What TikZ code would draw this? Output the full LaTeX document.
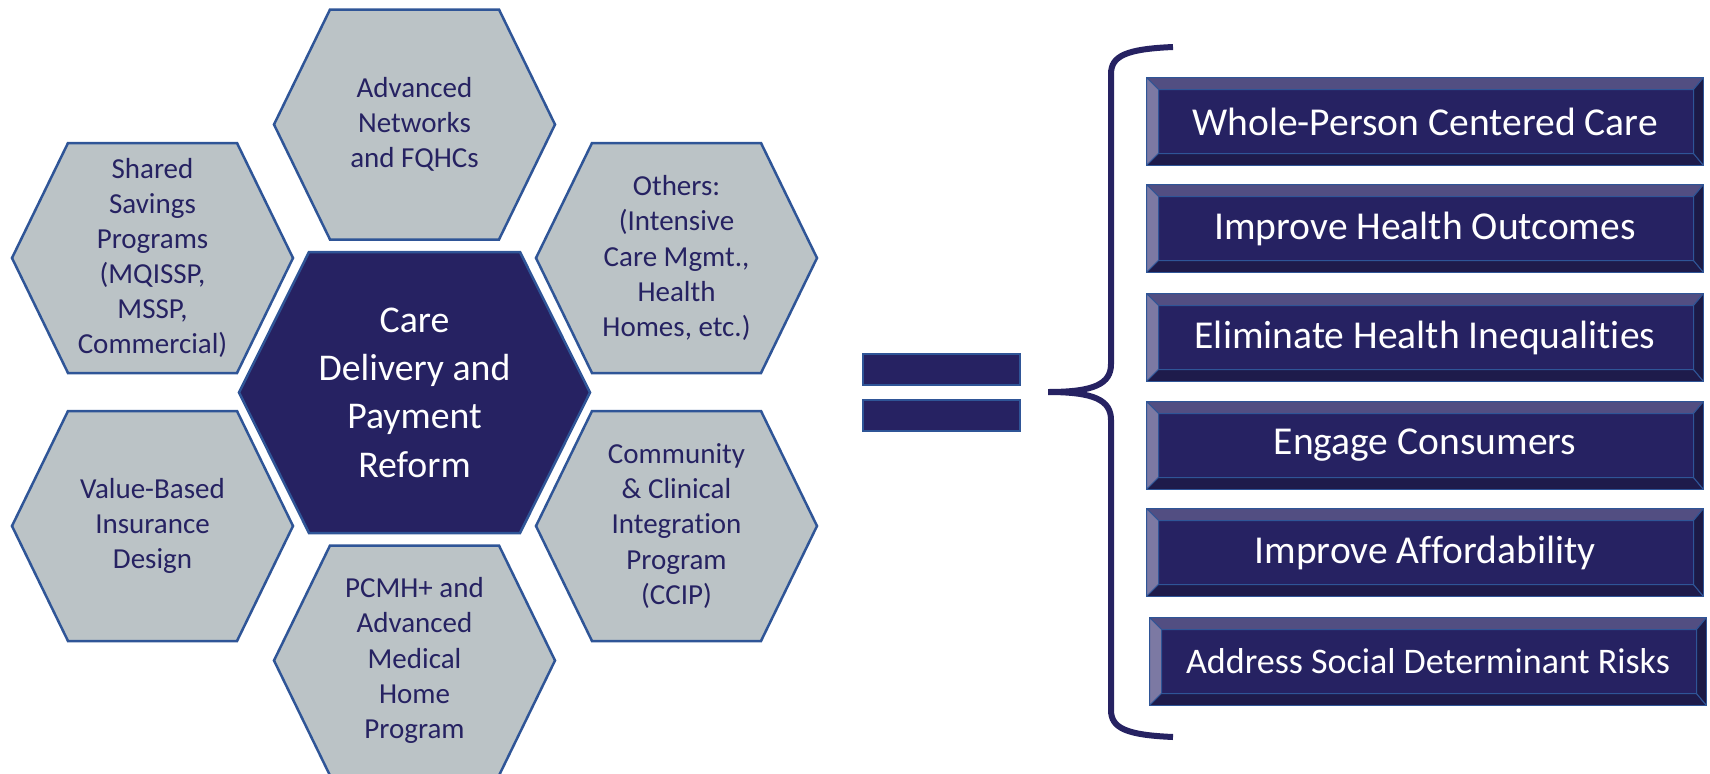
\documentclass[tikz,border=0pt]{standalone}
\usepackage{fontspec}
\setmainfont{Carlito}[Ligatures=NoCommon]
\usepackage{tikz}

\definecolor{carenavy}{HTML}{262262}
\definecolor{edgeblue}{HTML}{2F5597}
\definecolor{hexgray}{HTML}{BBC3C6}
\definecolor{bevtop}{HTML}{524E82}
\definecolor{bevleft}{HTML}{7C79A3}
\definecolor{bevbottom}{HTML}{1E1B4B}
\definecolor{bevright}{HTML}{1C1A46}

\tikzset{
  hexcell/.style={fill=hexgray, draw=edgeblue, line width=0.5mm},
  carehex/.style={fill=carenavy, draw=edgeblue, line width=0.5mm},
  hexlabel/.style={align=center, inner sep=0pt, text=carenavy,
    font=\fontsize{16.5}{20}\selectfont},
  carelabel/.style={align=center, inner sep=0pt, text=white,
    font=\fontsize{21.5}{27.5}\selectfont},
  eqbar/.style={fill=carenavy, draw=edgeblue, line width=0.4mm,
    minimum width=31.4mm, minimum height=6.2mm, inner sep=0pt},
  brace/.style={draw=carenavy, line width=1.2mm},
  bevel/.style={draw=edgeblue, line width=0.2mm},
  goalbox/.style={fill=carenavy, draw=edgeblue, line width=0.35mm,
    minimum width=111.4mm, minimum height=17.6mm, inner sep=0pt,
    text=white, font=\fontsize{22.5}{27}\selectfont,
    path picture={
      \coordinate (gnw) at (path picture bounding box.north west);
      \coordinate (gne) at (path picture bounding box.north east);
      \coordinate (gsw) at (path picture bounding box.south west);
      \coordinate (gse) at (path picture bounding box.south east);
      \filldraw[bevel, fill=bevtop] (gnw) -- (gne) -- ([xshift=-2mm,yshift=-2.4mm]gne)
        -- ([xshift=2.4mm,yshift=-2.4mm]gnw) -- cycle;
      \filldraw[bevel, fill=bevleft] (gnw) -- ([xshift=2.4mm,yshift=-2.4mm]gnw)
        -- ([xshift=2.4mm,yshift=2.4mm]gsw) -- (gsw) -- cycle;
      \filldraw[bevel, fill=bevbottom] (gsw) -- ([xshift=2.4mm,yshift=2.4mm]gsw)
        -- ([xshift=-2mm,yshift=2.4mm]gse) -- (gse) -- cycle;
      \filldraw[bevel, fill=bevright] (gne) -- ([xshift=-2mm,yshift=-2.4mm]gne)
        -- ([xshift=-2mm,yshift=2.4mm]gse) -- (gse) -- cycle;
    }},
}

% one grey cell of the honeycomb: name, centre x, centre y, text
\newcommand{\smallhex}[4]{%
  \filldraw[hexcell] ({#2-140.5},#3) -- ({#2-84.5},{#3-115}) -- ({#2+84.5},{#3-115})
    -- ({#2+140.5},#3) -- ({#2+84.5},{#3+115}) -- ({#2-84.5},{#3+115}) -- cycle;
  \node[hexlabel] (#1) at (#2,#3) {#4};
}

\begin{document}
\begin{tikzpicture}[x=0.2mm, y=-0.2mm]
\useasboundingbox (0,0) rectangle (1710,773);

% honeycomb
\smallhex{adv}{414.5}{124.5}{Advanced\\Networks\\and FQHCs}
\smallhex{ssp}{152.5}{258}{Shared\\Savings\\Programs\\(MQISSP,\\MSSP,\\Commercial)}
\smallhex{oth}{676.5}{258}{Others:\\(Intensive\\Care Mgmt.,\\Health\\Homes, etc.)}
\smallhex{vbid}{152.5}{526}{Value-Based\\Insurance\\Design}
\smallhex{ccip}{676.5}{526}{Community\\\& Clinical\\Integration\\Program\\(CCIP)}
\smallhex{pcmh}{414.5}{660.5}{PCMH+ and\\Advanced\\Medical\\Home\\Program}

\filldraw[carehex] (239,392.5) -- (309,252) -- (520,252) -- (590,392.5)
  -- (520,533) -- (309,533) -- cycle;
\node[carelabel] (care) at (414.5,392.5) {Care\\Delivery and\\Payment\\Reform};

% equals sign
\node[eqbar] (eqtop) at (941.5,369) {};
\node[eqbar] (eqbot) at (941.5,415.5) {};

% brace
\coordinate (tip) at (1048,392);
\draw[brace] (1173,47) .. controls (1126,49) and (1111,56) .. (1111,74) -- (1111,364)
  .. controls (1111,384) and (1094,392) .. (tip)
  .. controls (1094,392) and (1111,400) .. (1111,420) -- (1111,710)
  .. controls (1111,728) and (1126,735) .. (1173,737);

% goals
\node[goalbox] (whole)  at (1425,121.5) {Whole-Person Centered Care};
\node[goalbox] (outc)   at (1425,228.5) {Improve Health Outcomes};
\node[goalbox] (ineq)   at (1425,337.5) {Eliminate Health Inequalities};
\node[goalbox] (engage) at (1425,445.5) {Engage Consumers};
\node[goalbox] (afford) at (1425,552.5) {Improve Affordability};
\node[goalbox, font=\fontsize{20.5}{25}\selectfont] (sdoh) at (1428,661.5)
  {Address Social Determinant Risks};

\end{tikzpicture}
\end{document}
